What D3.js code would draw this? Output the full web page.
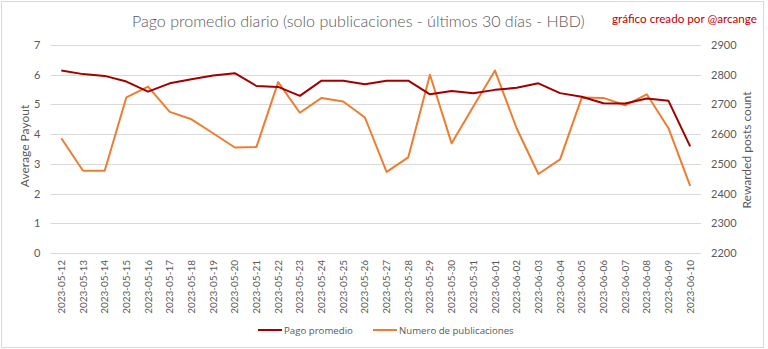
<!DOCTYPE html>
<html>
<head>
<meta charset="utf-8">
<script src="https://cdn.jsdelivr.net/npm/d3@7"></script>
<style>
  html, body { margin: 0; padding: 0; background: #fff; }
  svg { display: block; }
  text { font-family: Lato, "Open Sans", "Liberation Sans", sans-serif; }
</style>
</head>
<body>
<svg id="chart" width="768" height="349"></svg>
<script>
// Daily dates (category axis)
const dates = [
  "2023-05-12","2023-05-13","2023-05-14","2023-05-15","2023-05-16","2023-05-17",
  "2023-05-18","2023-05-19","2023-05-20","2023-05-21","2023-05-22","2023-05-23",
  "2023-05-24","2023-05-25","2023-05-26","2023-05-27","2023-05-28","2023-05-29",
  "2023-05-30","2023-05-31","2023-06-01","2023-06-02","2023-06-03","2023-06-04",
  "2023-06-05","2023-06-06","2023-06-07","2023-06-08","2023-06-09","2023-06-10"
];
// Average payout per post (HBD), left axis
const payout = [
  6.14, 6.02, 5.96, 5.77, 5.43, 5.71, 5.85, 5.97, 6.05, 5.62,
  5.59, 5.29, 5.80, 5.80, 5.68, 5.80, 5.80, 5.34, 5.45, 5.38,
  5.49, 5.56, 5.71, 5.38, 5.26, 5.04, 5.03, 5.20, 5.12, 3.59
];
// Number of rewarded posts, right axis
const posts = [
  2586, 2477, 2477, 2724, 2760, 2675, 2650, 2603, 2555, 2557,
  2775, 2672, 2722, 2710, 2656, 2473, 2522, 2800, 2569, 2693,
  2814, 2619, 2466, 2515, 2723, 2722, 2697, 2734, 2620, 2426
];
const leftTicks = [0, 1, 2, 3, 4, 5, 6, 7];
const rightTicks = [2200, 2300, 2400, 2500, 2600, 2700, 2800, 2900];

const svg = d3.select("#chart");
const textColor = "#595959";
const gridColor = "#d9d9d9";
const payoutColor = "#a00000";
const postsColor = "#ed7d31";

const plot = { left: 50.5, right: 701, top: 45, bottom: 253 };

// scale a text's font size so that it spans the given width
function fitWidth(sel, width) {
  const node = sel.node();
  const size = parseFloat(sel.style("font-size"));
  const w = node.getComputedTextLength();
  if (w > 0) sel.style("font-size", (size * width / w).toFixed(2) + "px");
  return sel;
}

// frame of the chart area
svg.append("rect")
  .attr("x", 1.5).attr("y", 1.5).attr("width", 762).attr("height", 346)
  .attr("fill", "#fff").attr("stroke", gridColor).attr("stroke-width", 1);

const x = d3.scaleBand().domain(dates).range([plot.left, plot.right]);
const yL = d3.scaleLinear().domain([0, 7]).range([plot.bottom, plot.top]);
const yR = d3.scaleLinear().domain([2200, 2900]).range([plot.bottom, plot.top]);
const cx = d => x(d) + x.bandwidth() / 2;

// horizontal gridlines
svg.append("g").selectAll("line").data(leftTicks).join("line")
  .attr("x1", plot.left).attr("x2", plot.right)
  .attr("y1", d => Math.round(yL(d)) + 0.5).attr("y2", d => Math.round(yL(d)) + 0.5)
  .attr("stroke", gridColor).attr("stroke-width", 1);

// left axis
const axL = svg.append("g").attr("transform", `translate(${plot.left},0)`)
  .call(d3.axisLeft(yL).tickValues(leftTicks).tickSize(0).tickPadding(10).tickFormat(d3.format("d")));
axL.select(".domain").remove();
axL.selectAll("text").attr("fill", textColor).style("font-size", "11px")
  .style("font-family", "Lato, sans-serif");

// right axis
const axR = svg.append("g").attr("transform", `translate(${plot.right},0)`)
  .call(d3.axisRight(yR).tickValues(rightTicks).tickSize(0).tickPadding(10).tickFormat(d3.format("d")));
axR.select(".domain").remove();
axR.selectAll("text").attr("fill", textColor).style("font-size", "11px")
  .style("font-family", "Lato, sans-serif");

// bottom axis with rotated date labels
const axB = svg.append("g").attr("transform", `translate(0,${plot.bottom})`)
  .call(d3.axisBottom(x).tickSize(0).tickPadding(0));
axB.select(".domain").remove();
axB.selectAll("text")
  .attr("fill", textColor).style("font-size", "10px")
  .attr("text-anchor", "end")
  .attr("transform", "translate(3.5,7) rotate(-90)")
  .attr("x", 0).attr("y", 0).attr("dy", 0);

// lines
const linePayout = d3.line().x((d, i) => cx(dates[i])).y(d => yL(d));
const linePosts = d3.line().x((d, i) => cx(dates[i])).y(d => yR(d));

svg.append("path").datum(posts)
  .attr("d", linePosts).attr("fill", "none")
  .attr("stroke", postsColor).attr("stroke-width", 2).attr("stroke-linejoin", "round");
svg.append("path").datum(payout)
  .attr("d", linePayout).attr("fill", "none")
  .attr("stroke", payoutColor).attr("stroke-width", 2).attr("stroke-linejoin", "round");

// title and credit
fitWidth(svg.append("text").attr("x", 132).attr("y", 27)
  .attr("fill", textColor).style("font-size", "17px").style("font-weight", 300)
  .text("Pago promedio diario (solo publicaciones - últimos 30 días - HBD)"), 453);
fitWidth(svg.append("text").attr("x", 612).attr("y", 23)
  .attr("fill", "#c00000").style("font-size", "12px")
  .text("gráfico creado por @arcange"), 145);

// axis titles
svg.append("text")
  .attr("transform", "translate(29,146) rotate(-90)")
  .attr("text-anchor", "middle").attr("fill", textColor).style("font-size", "12px")
  .text("Average Payout");
svg.append("text")
  .attr("transform", "translate(751,150) rotate(-90)")
  .attr("text-anchor", "middle").attr("fill", textColor).style("font-size", "12px")
  .text("Rewarded posts count");

// legend
const legend = [
  { name: "Pago promedio", color: payoutColor, x: 258, w: 69 },
  { name: "Numero de publicaciones", color: postsColor, x: 373, w: 115 }
];
const lg = svg.append("g");
legend.forEach(l => {
  lg.append("line").attr("x1", l.x).attr("x2", l.x + 24).attr("y1", 330).attr("y2", 330)
    .attr("stroke", l.color).attr("stroke-width", 2);
  fitWidth(lg.append("text").attr("x", l.x + 26).attr("y", 334)
    .attr("fill", textColor).style("font-size", "11px")
    .style("font-family", "'Open Sans', sans-serif")
    .text(l.name), l.w);
});
</script>
</body>
</html>
